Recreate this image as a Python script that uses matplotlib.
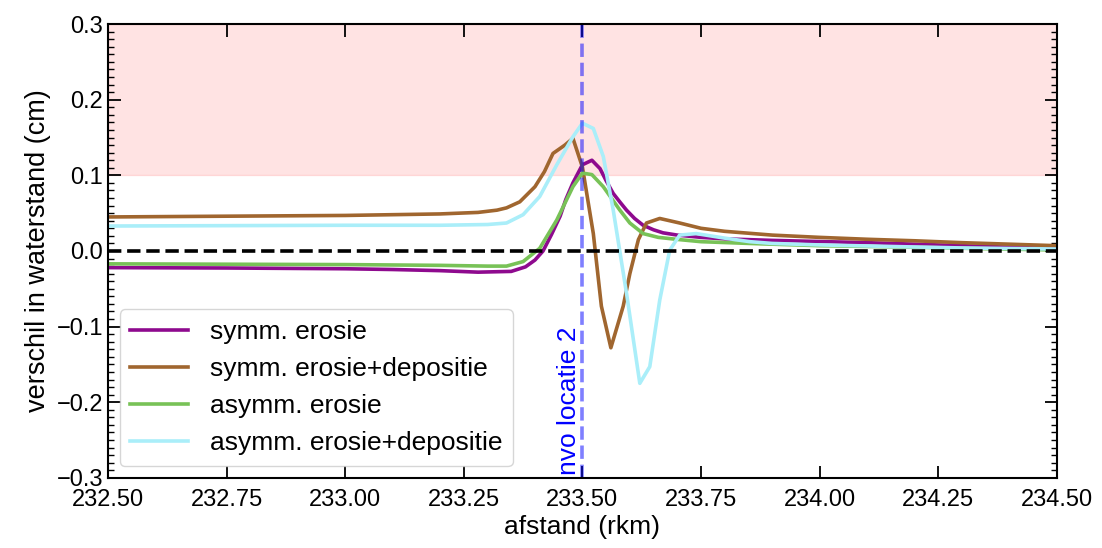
import numpy as np
import matplotlib.pyplot as plt
from matplotlib.ticker import MultipleLocator

plt.rcParams['font.family'] = ['Liberation Sans', 'DejaVu Sans']
plt.rcParams['font.size'] = 19

# symm. erosie
x_se = [232.5, 232.75, 233.0, 233.1, 233.2, 233.28, 233.35, 233.38, 233.40, 233.417, 233.435,
        233.453, 233.465, 233.48, 233.50, 233.52, 233.537, 233.55, 233.565, 233.58, 233.593,
        233.61, 233.628, 233.65, 233.67, 233.7, 233.75, 233.8, 233.9, 234.0, 234.1, 234.2,
        234.3, 234.4, 234.5]
y_se = [-0.022, -0.0225, -0.0235, -0.0245, -0.026, -0.028, -0.027, -0.021, -0.012, 0.0, 0.022,
        0.046, 0.068, 0.090, 0.114, 0.120, 0.109, 0.093, 0.076, 0.064, 0.054,
        0.043, 0.034, 0.028, 0.024, 0.021, 0.018, 0.016, 0.014, 0.0125, 0.011, 0.009,
        0.007, 0.005, 0.003]

# symm. erosie+depositie
x_sed = [232.5, 232.75, 233.0, 233.1, 233.2, 233.28, 233.32, 233.34, 233.368, 233.40, 233.42,
         233.438, 233.463, 233.48, 233.50, 233.523, 233.54, 233.56, 233.586, 233.60, 233.618,
         233.635, 233.663, 233.705, 233.75, 233.8, 233.9, 234.0, 234.1, 234.2, 234.3, 234.4, 234.5]
y_sed = [0.045, 0.046, 0.047, 0.048, 0.049, 0.051, 0.054, 0.057, 0.065, 0.085, 0.105,
         0.129, 0.140, 0.149, 0.111, 0.023, -0.073, -0.128, -0.073, -0.03, 0.015,
         0.037, 0.043, 0.037, 0.030, 0.026, 0.021, 0.018, 0.0155, 0.0135, 0.011, 0.009, 0.007]

# asymm. erosie
x_ae = [232.5, 232.75, 233.0, 233.2, 233.3, 233.34, 233.375, 233.41, 233.446, 233.48, 233.50,
        233.52, 233.544, 233.579, 233.60, 233.628, 233.66, 233.705, 233.75, 233.85, 234.0,
        234.2, 234.35, 234.5]
y_ae = [-0.017, -0.0175, -0.018, -0.019, -0.02, -0.02, -0.014, 0.0035, 0.041, 0.085, 0.103,
        0.101, 0.085, 0.054, 0.037, 0.023, 0.018, 0.015, 0.0123, 0.010, 0.007,
        0.005, 0.003, 0.0013]

# asymm. erosie+depositie
x_aed = [232.5, 232.75, 233.0, 233.2, 233.3, 233.34, 233.375, 233.41, 233.446, 233.48, 233.50,
         233.523, 233.544, 233.565, 233.593, 233.621, 233.642, 233.663, 233.684, 233.705,
         233.74, 233.8, 233.853, 233.9, 234.0, 234.17, 234.3, 234.5]
y_aed = [0.033, 0.0335, 0.034, 0.034, 0.035, 0.037, 0.048, 0.072, 0.114, 0.151, 0.169,
         0.162, 0.125, 0.054, -0.056, -0.175, -0.153, -0.065, 0.001, 0.021,
         0.023, 0.017, 0.0123, 0.010, 0.008, 0.0057, 0.004, 0.0026]

x_loc = 233.5
grens = 0.1

fig = plt.figure(figsize=(11.02, 5.48), dpi=100)
ax = fig.add_axes([0.098, 0.128, 0.861, 0.828])

ax.axhspan(grens, 0.3, color='red', alpha=0.11)
lw = 2.6
ax.plot(x_se, y_se, color='#8e0a8e', lw=lw, label='symm. erosie')
ax.plot(x_sed, y_sed, color='#a0662f', lw=lw, label='symm. erosie+depositie')
ax.plot(x_ae, y_ae, color='#78c257', lw=lw, label='asymm. erosie')
ax.plot(x_aed, y_aed, color='#aaeef9', lw=lw, label='asymm. erosie+depositie')
ax.axhline(0, color='black', ls='--', lw=2.6)
ax.axvline(x_loc, color='blue', ls='--', lw=2.6, alpha=0.5)
ax.text(x_loc - 0.004, -0.296, 'nvo locatie 2', color='blue', rotation=90,
        ha='right', va='bottom', fontsize=19)

ax.set_xlim(232.5, 234.5)
ax.set_ylim(-0.3, 0.3)
ax.set_xticks(np.arange(232.5, 234.51, 0.25))
ax.set_xticklabels(['%.2f' % v for v in np.arange(232.5, 234.51, 0.25)])
ax.yaxis.set_minor_locator(MultipleLocator(0.01))
ax.tick_params(which='both', direction='in', top=True, right=True, labelsize=17)
ax.tick_params(axis='x', pad=8)
ax.tick_params(which='major', length=9, width=1.3)
ax.tick_params(which='minor', length=4.5, width=1.0)
for s in ax.spines.values():
    s.set_linewidth(1.5)
ax.set_xlabel('afstand (rkm)', fontsize=19, labelpad=3)
ax.set_ylabel('verschil in waterstand (cm)', fontsize=19.5)
ax.legend(loc='lower left', handlelength=2.2, fontsize=19, borderaxespad=0.45)

fig.savefig('out.png', dpi=100)
